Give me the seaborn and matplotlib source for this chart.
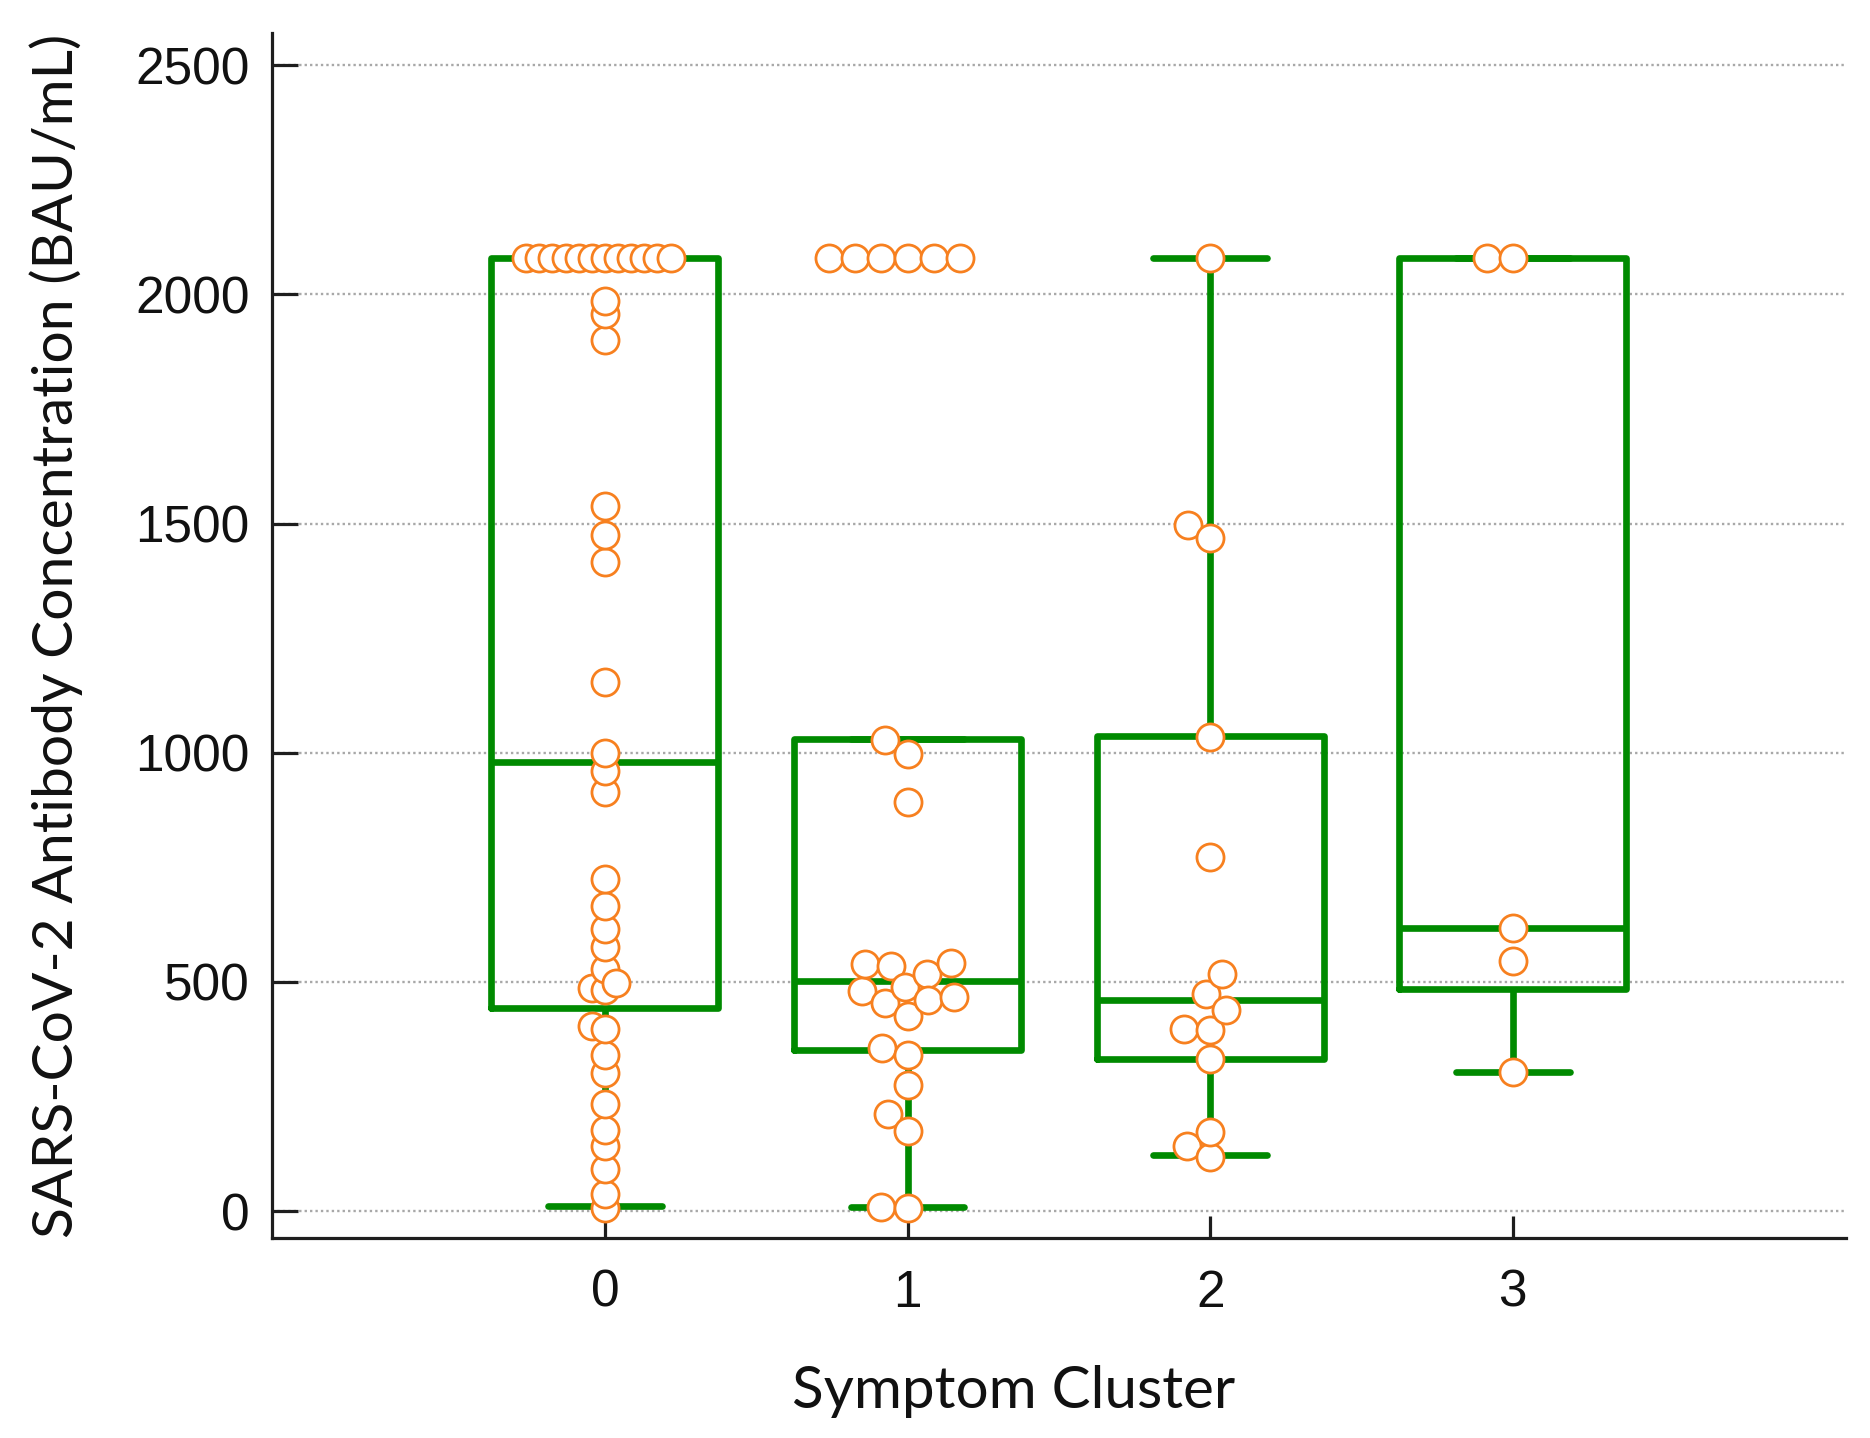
# Antibody concentration by symptom cluster: box + swarm
import numpy as np
import pandas as pd
import matplotlib.pyplot as plt
import seaborn as sns

# === data ===
clusters = ["0", "1", "2", "3"]

# individual participants, BAU/mL (2080 = upper limit of the assay)
conc_c0 = [2080, 2080, 2080, 2080, 2080, 2080, 2080, 2080, 2080, 2080, 2080, 2080,
           1986, 1957, 1900, 1538, 1475, 1417, 1155, 1000, 961, 914,
           724, 666, 616, 577, 529, 497, 486, 482, 403, 398,
           340, 301, 234, 177, 141, 91, 37, 7]
conc_c1 = [2080, 2080, 2080, 2080, 2080, 2080, 1027, 998, 893,
           542, 538, 534, 517, 488, 480, 468, 460, 453, 425,
           355, 341, 275, 211, 174, 8, 6]
conc_c2 = [2080, 1497, 1468, 1035, 772, 517, 474, 439, 398, 396, 332, 172, 141, 117]
conc_c3 = [2080, 2080, 618, 546, 303]

# box summary per cluster: whisker low, Q1, median, Q3, whisker high
box_lo = [10, 8, 122, 303]
box_q1 = [443, 352, 332, 485]
box_med = [980, 503, 460, 618]
box_q3 = [2080, 1030, 1036, 2080]
box_hi = [2080, 1030, 2080, 2080]

green = "#008a00"
orange = "#f7801f"

# === tables for seaborn ===
pts = pd.DataFrame({
    "cluster": (["0"] * len(conc_c0) + ["1"] * len(conc_c1)
                + ["2"] * len(conc_c2) + ["3"] * len(conc_c3)),
    "value": conc_c0 + conc_c1 + conc_c2 + conc_c3,
})

rows = []
for i, c in enumerate(clusters):
    for v in (box_lo[i], box_q1[i], box_med[i], box_q3[i], box_hi[i]):
        rows.append({"cluster": c, "value": v})
box_df = pd.DataFrame(rows)   # 5 values/cluster -> quartiles land exactly on the stats

# === plot ===
sns.set_style("ticks")
plt.rcParams["font.family"] = ["Liberation Sans", "DejaVu Sans"]

fig = plt.figure(figsize=(18.7, 14.38), dpi=100)
ax = fig.add_axes([0.1455, 0.139, 0.8415, 0.838])

sns.boxplot(data=box_df, x="cluster", y="value", order=clusters, width=0.75,
            fill=False, color=green, linecolor=green, linewidth=4.8,
            showfliers=False, whis=1.5, ax=ax)

n_before = len(ax.collections)
dot_size = 19.5
sns.swarmplot(data=pts, x="cluster", y="value", order=clusters, size=dot_size,
              color="white", edgecolor=orange, linewidth=2.0, zorder=3, ax=ax)
swarms = ax.collections[n_before:]

ax.set_xlim(-1.1, 4.1)
ax.set_ylim(-59, 2570)
ax.set_yticks([0, 500, 1000, 1500, 2000, 2500])

# lay the swarm out with smaller "packing" circles so rows overlap like the original
pack_sizes = [7.0, 16.0, 16.0, 16.0]
for coll, pack in zip(swarms, pack_sizes):
    coll.set_sizes([pack ** 2])
fig.canvas.draw()
for coll in swarms:
    del coll.draw          # freeze the computed positions
    coll.set_sizes([dot_size ** 2])
    # draw left to right so overlapping rows stack neatly
    xy = coll.get_offsets()
    coll.set_offsets(xy[np.lexsort((xy[:, 1], xy[:, 0]))])

# grid / spines / ticks
ax.set_axisbelow(True)
ax.yaxis.grid(True, linestyle=(0, (1, 1.3)), color="#a8a8a8", linewidth=1.7)
ax.xaxis.grid(False)
sns.despine(ax=ax)
for side in ("left", "bottom"):
    ax.spines[side].set_color("#1e1e1e")
    ax.spines[side].set_linewidth(2.3)
ax.tick_params(axis="y", direction="in", length=19, width=2.3, pad=16,
               labelsize=37, color="#1e1e1e", labelcolor="#111111")
ax.tick_params(axis="x", direction="in", length=16, width=2.3, pad=22,
               labelsize=37, color="#1e1e1e", labelcolor="#111111")

ax.set_xlabel("Symptom Cluster", fontsize=42, color="#111111",
              family=["Lato", "DejaVu Sans"])
ax.set_ylabel("SARS-CoV-2 Antibody Concentration (BAU/mL)", fontsize=41,
              color="#111111", family=["Lato", "DejaVu Sans"])
ax.xaxis.set_label_coords(0.471, -0.105)
ax.yaxis.set_label_coords(-0.12, 0.5)

fig.savefig("out.png", dpi=100)
